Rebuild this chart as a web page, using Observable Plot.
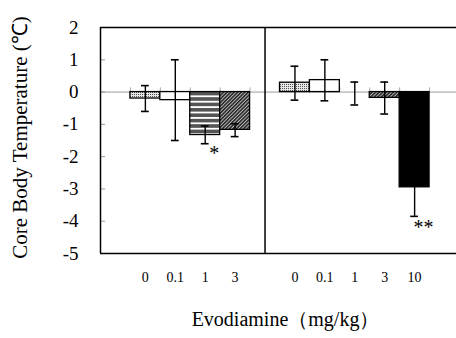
<!DOCTYPE html>
<html>
<head>
<meta charset="utf-8">
<script src="https://cdn.jsdelivr.net/npm/d3@7"></script>
<script src="https://cdn.jsdelivr.net/npm/@observablehq/plot@0.6"></script>
<style>
  html, body { margin: 0; padding: 0; background: #fff; }
  #chart svg { display: block; }
  #chart svg text { font-family: 'Liberation Serif', 'Times New Roman', serif !important; }
</style>
</head>
<body>
<div id="chart"></div>
<script>
// ---- data ----
const groups   = ["A", "A", "A", "A", "B", "B", "B", "B", "B"];
const doses    = ["0", "0.1", "1", "3", "0", "0.1", "1", "3", "10"];
const means    = [-0.2, -0.25, -1.33, -1.17, 0.29, 0.37, 0, -0.18, -2.95];
const errHigh  = [0.2, 1.0, -1.05, -0.98, 0.8, 1.0, 0.31, 0.31, -2.05];
const errLow   = [-0.6, -1.5, -1.6, -1.38, -0.25, -0.27, -0.4, -0.68, -3.85];
const patterns = ["dots", "white", "stripes", "hatch", "dots", "white", "none", "hatch", "black"];
const yTicks   = [2, 1, 0, -1, -2, -3, -4, -5];
const starIndex = [2, 8];
const starText  = ["*", "**"];
const starY     = [-1.9, -4.2];
const yLabel = "Core Body Temperature (\u2103)";
const xLabel = "Evodiamine\uff08mg/kg\uff09";

// slot position of each bar: group B skips one slot for the divider
const rows = doses.map((d, i) => ({
  pos: i + (groups[i] === "B" ? 1 : 0),
  group: groups[i],
  dose: d,
  mean: means[i],
  hi: errHigh[i],
  lo: errLow[i],
  fill: patterns[i] === "white" ? "white" : patterns[i] === "black" ? "black" : `url(#pat-${patterns[i]})`,
  pattern: patterns[i]
}));
const dividerPos = rows.filter(r => r.group === "A").length;
const stars = starIndex.map((k, j) => ({pos: rows[k].pos, text: starText[j], y: starY[j]}));
// category boundary ticks on the zero line
const boundaries = Array.from(new Set(rows.flatMap(r => [r.pos - 0.5, r.pos + 0.5])));

const xDomain = [-1.5, 10.4];
const yDomain = [-5, 2];
const serif = "'Liberation Serif', 'Times New Roman', serif";
const barW = 0.5, capW = 0.13, tickLen = 0.13;

const chart = Plot.plot({
  width: 456,
  height: 338,
  marginLeft: 100,
  marginRight: 0,
  marginTop: 27,
  marginBottom: 85,
  style: {fontFamily: serif, background: "white", color: "black"},
  x: {domain: xDomain, axis: null},
  y: {domain: yDomain, axis: null},
  color: {type: "identity"},
  marks: [
    // zero line with category ticks
    Plot.ruleY([0], {x1: xDomain[0], x2: xDomain[1], stroke: "#9a9a9a", strokeWidth: 1}),
    Plot.ruleX(boundaries, {x: d => d, y1: 0, y2: tickLen, stroke: "#aaa", strokeWidth: 1}),
    // small inward ticks on left frame
    Plot.ruleY(yTicks, {x1: xDomain[0], x2: xDomain[0] + 0.17, stroke: "#9a9a9a", strokeWidth: 1}),
    // bars
    Plot.rect(rows.filter(r => r.pattern !== "none"), {
      x1: r => r.pos - barW, x2: r => r.pos + barW,
      y1: 0, y2: "mean",
      fill: "fill", stroke: "black", strokeWidth: 1.3
    }),
    // error bars
    Plot.ruleX(rows, {x: "pos", y1: "lo", y2: "hi", stroke: "black", strokeWidth: 1.4}),
    Plot.ruleY(rows, {y: "hi", x1: r => r.pos - capW, x2: r => r.pos + capW, stroke: "black", strokeWidth: 1.6}),
    Plot.ruleY(rows, {y: "lo", x1: r => r.pos - capW, x2: r => r.pos + capW, stroke: "black", strokeWidth: 1.6}),
    // significance marks
    Plot.text(stars, {x: "pos", y: "y", text: "text", dx: 9, fontSize: 20, fontFamily: serif}),
    // frame: left, divider, top, bottom
    Plot.ruleX([xDomain[0], dividerPos], {y1: yDomain[0], y2: yDomain[1], stroke: "black", strokeWidth: 1.5}),
    Plot.ruleY(yDomain, {x1: xDomain[0], x2: xDomain[1], stroke: "black", strokeWidth: 1.6}),
    // y tick labels
    Plot.text(yTicks, {x: xDomain[0], y: d => d, text: d => String(d), textAnchor: "end", dx: -22, fontSize: 19, fontFamily: serif}),
    // x tick labels
    Plot.text(rows, {x: "pos", y: yDomain[0], text: "dose", dy: 24, fontSize: 14, fontFamily: serif}),
    // axis titles
    Plot.text([yLabel], {frameAnchor: "left", textAnchor: "middle", dx: -80, dy: -3, rotate: -90, text: d => d, fontSize: 21, fontFamily: serif}),
    Plot.text([xLabel], {frameAnchor: "bottom", textAnchor: "middle", dx: 7, dy: 72, text: d => d, fontSize: 20, fontFamily: serif})
  ]
});

// fill patterns
const defs = d3.select(chart).insert("defs", ":first-child");
const dots = defs.append("pattern").attr("id", "pat-dots").attr("patternUnits", "userSpaceOnUse").attr("width", 2).attr("height", 2);
dots.append("rect").attr("width", 2).attr("height", 2).attr("fill", "#e6e6e6");
dots.append("rect").attr("width", 1).attr("height", 1).attr("fill", "#555");
const stripes = defs.append("pattern").attr("id", "pat-stripes").attr("patternUnits", "userSpaceOnUse").attr("width", 6).attr("height", 5.4);
stripes.append("rect").attr("width", 6).attr("height", 5.4).attr("fill", "white");
stripes.append("rect").attr("width", 6).attr("height", 3.6).attr("fill", "#555");
const hatch = defs.append("pattern").attr("id", "pat-hatch").attr("patternUnits", "userSpaceOnUse").attr("width", 2.5).attr("height", 2.5).attr("patternTransform", "rotate(45)");
hatch.append("rect").attr("width", 2.5).attr("height", 2.5).attr("fill", "#bbb");
hatch.append("rect").attr("width", 1.5).attr("height", 2.5).attr("fill", "#222");

document.getElementById("chart").appendChild(chart);
</script>
</body>
</html>
